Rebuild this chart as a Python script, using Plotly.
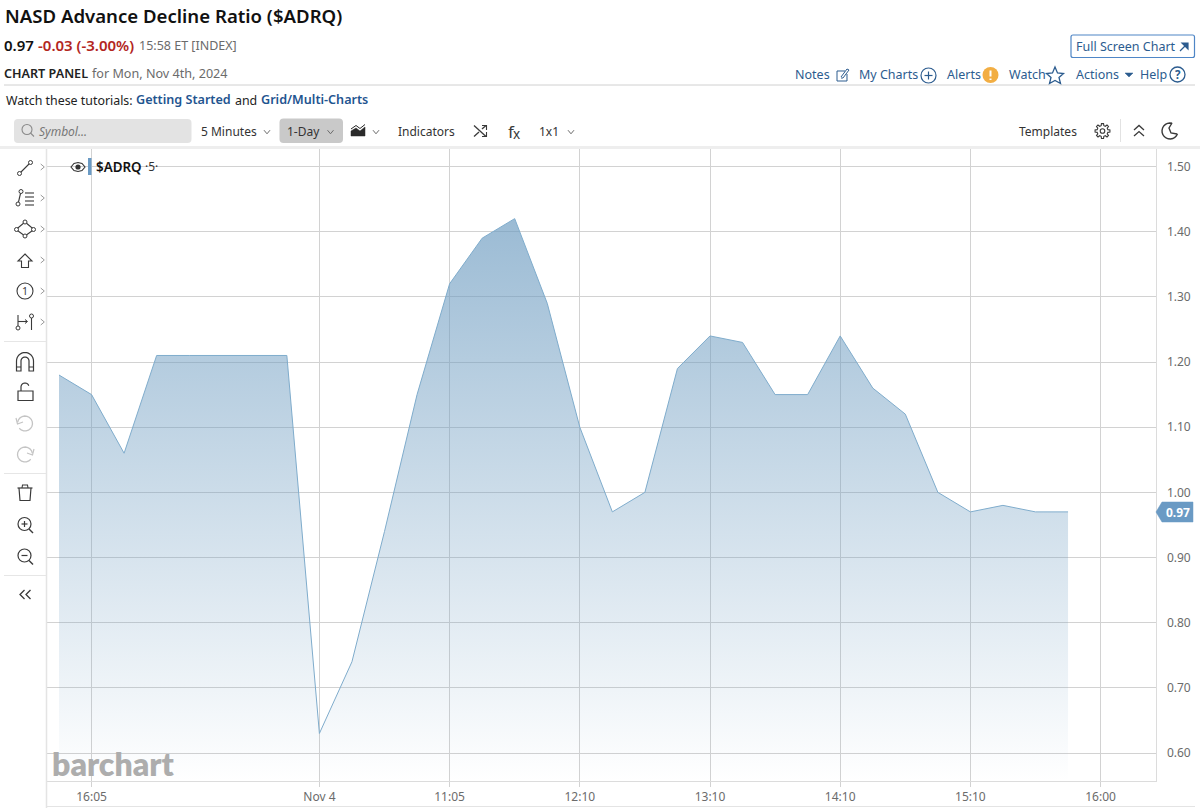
import math
import plotly.graph_objects as go

W, H = 1200, 808

# ---- data ----
bars = list(range(32))
ratio = [1.18, 1.15, 1.06, 1.21, 1.21, 1.21, 1.21, 1.21, 0.63, 0.74, 0.94, 1.15,
         1.32, 1.39, 1.42, 1.29, 1.10, 0.97, 1.00, 1.19, 1.24, 1.23, 1.15, 1.15,
         1.24, 1.16, 1.12, 1.00, 0.97, 0.98, 0.97, 0.97]
x_tick_pos = [1, 8, 12, 16, 20, 24, 28, 32]
x_tick_labels = ["16:05", "Nov 4", "11:05", "12:10", "13:10", "14:10", "15:10", "16:00"]
y_tick_vals = [0.6, 0.7, 0.8, 0.9, 1.0, 1.1, 1.2, 1.3, 1.4, 1.5]
y_tick_labels = ["0.60", "0.70", "0.80", "0.90", "1.00", "1.10", "1.20", "1.30", "1.40", "1.50"]
last_value = 0.97

FONT = "Noto Sans"
BLUE = "#2c5c8f"
LINK = "#1f5590"
DARK = "#333333"
GREY = "#6b6b6b"
ICON = "#3a3a3a"
FAINT = "#c4c4c4"
GRID = "#d2d2d2"

shapes, notes = [], []


def X(v):
    return v / W


def Y(v):
    return 1 - v / H


def text(x, y, s, size=12, color=DARK, bold=False, italic=False, anchor="left", family=FONT, weight=None):
    f = dict(family=family, size=size, color=color)
    if weight:
        f["weight"] = weight
    elif bold:
        f["weight"] = 700
    if italic:
        f["style"] = "italic"
    notes.append(dict(xref="paper", yref="paper", x=X(x), y=Y(y), text=s, showarrow=False,
                      xanchor=anchor, yanchor="middle", font=f, borderpad=0, borderwidth=0))


def path(pts, color=ICON, width=1.2, fill=None, close=False):
    d = "M" + " L".join(f"{X(a):.5f},{Y(b):.5f}" for a, b in pts) + (" Z" if close else "")
    shapes.append(dict(type="path", xref="paper", yref="paper", path=d,
                       line=dict(color=color, width=width), fillcolor=fill or "rgba(0,0,0,0)"))


def circle(cx, cy, r, color=ICON, width=1.2, fill=None):
    shapes.append(dict(type="circle", xref="paper", yref="paper", x0=X(cx - r), x1=X(cx + r),
                       y0=Y(cy + r), y1=Y(cy - r), line=dict(color=color, width=width),
                       fillcolor=fill or "rgba(0,0,0,0)"))


def rrect(x0, y0, x1, y1, r, fill=None, color=None, width=1):
    d = (f"M{X(x0 + r)},{Y(y0)} L{X(x1 - r)},{Y(y0)} Q{X(x1)},{Y(y0)} {X(x1)},{Y(y0 + r)} "
         f"L{X(x1)},{Y(y1 - r)} Q{X(x1)},{Y(y1)} {X(x1 - r)},{Y(y1)} L{X(x0 + r)},{Y(y1)} "
         f"Q{X(x0)},{Y(y1)} {X(x0)},{Y(y1 - r)} L{X(x0)},{Y(y0 + r)} Q{X(x0)},{Y(y0)} {X(x0 + r)},{Y(y0)} Z")
    shapes.append(dict(type="path", xref="paper", yref="paper", path=d,
                       line=dict(color=color or "rgba(0,0,0,0)", width=width if color else 0),
                       fillcolor=fill or "rgba(0,0,0,0)"))


def chev(cx, cy, s=3, color=GREY):
    path([(cx - s, cy - s * 0.6), (cx, cy + s * 0.6), (cx + s, cy - s * 0.6)], color=color, width=1)


def chev_r(cx, cy, s=3, color="#9a9a9a"):
    path([(cx - s * 0.6, cy - s), (cx + s * 0.6, cy), (cx - s * 0.6, cy + s)], color=color, width=1)


def arc(cx, cy, r, a0, a1, **kw):
    n = 16
    path([(cx + r * math.cos(math.radians(a0 + (a1 - a0) * i / n)),
           cy + r * math.sin(math.radians(a0 + (a1 - a0) * i / n))) for i in range(n + 1)], **kw)


def gear(cx, cy, r_out, r_in, teeth=8):
    pts = []
    for i in range(teeth):
        a = 360 * i / teeth
        for da, r in ((-14, r_in), (-8, r_out), (8, r_out), (14, r_in)):
            pts.append((cx + r * math.cos(math.radians(a + da)), cy + r * math.sin(math.radians(a + da))))
    path(pts, width=1.1, close=True)


# ---- header ----
text(5, 15, "NASD Advance Decline Ratio ($ADRQ)", size=18.6, color="#111111", weight=600)
text(4, 45, "0.97", size=15, color="#111111", weight=600)
text(38, 45, "-0.03 (-3.00%)", size=15, color="#b3261e", weight=600)
text(139, 45, "15:58 ET [INDEX]", size=12.5, color=GREY)
text(4, 74, "CHART PANEL", size=12.6, color="#222222", weight=600)
text(92, 74, "for Mon, Nov 4th, 2024", size=12.6, color=GREY)
path([(4, 85), (1195, 85)], color="#d0d0d0", width=1)
text(6, 100, "Watch these tutorials:", size=12.4, color="#222222")
text(136, 99.5, "Getting Started", size=12.6, color=LINK, weight=600)
text(235, 100, "and", size=12.4, color="#222222")
text(261, 99.5, "Grid/Multi-Charts", size=12.6, color=LINK, weight=600)

# top-right
rrect(1071, 35, 1194.5, 57.5, 2, color="#4f86c6", width=1.2)
text(1076, 46, "Full Screen Chart", size=12.5, color=BLUE)
path([(1180, 51), (1187, 44)], color=BLUE, width=1.2)
path([(1182, 43), (1188, 43), (1188, 49)], color=BLUE, width=1.2, fill=BLUE, close=True)
text(795, 75, "Notes", size=12.5, color=BLUE)
path([(845, 71), (837, 71), (837, 81), (847, 81), (847, 74)], color=BLUE, width=1)
path([(841, 77), (847, 69), (849, 70), (843, 78), (841, 78)], color=BLUE, width=1)
text(859, 75, "My Charts", size=12.5, color=BLUE)
circle(928.5, 75.5, 7.5, color=BLUE, width=1.2)
path([(924.5, 75.5), (932.5, 75.5)], color=BLUE, width=1.2)
path([(928.5, 71.5), (928.5, 79.5)], color=BLUE, width=1.2)
text(947, 75, "Alerts", size=12.5, color=BLUE)
circle(990.5, 75, 8, color="#f2ae43", width=0, fill="#f2ae43")
path([(990.5, 70.5), (990.5, 76.5)], color="#ffffff", width=2)
path([(990.5, 78.5), (990.5, 80)], color="#ffffff", width=2)
text(1009, 75, "Watch", size=12.5, color=BLUE)
path([(1055, 67), (1057.5, 73), (1063.5, 73.5), (1059, 77.5), (1060.5, 83.5), (1055, 80.5),
      (1049.5, 83.5), (1051, 77.5), (1046.5, 73.5), (1052.5, 73)], color=BLUE, width=1.3, close=True)
text(1076, 75, "Actions", size=12.5, color=BLUE)
path([(1125, 73), (1133, 73), (1129, 77)], color=BLUE, width=0.5, fill=BLUE, close=True)
text(1140, 75, "Help", size=12.5, color=BLUE)
circle(1177.5, 74.5, 7.5, color=BLUE, width=1.3)
text(1177.5, 75, "?", size=11.5, color=BLUE, anchor="center", weight=700)

# ---- toolbar ----
rrect(14, 119, 191.5, 143, 4, fill="#e3e3e3")
circle(27, 129.5, 5, color="#8a8a8a", width=1.1)
path([(30.5, 133), (34, 136.5)], color="#8a8a8a", width=1.1)
text(39, 131, "Symbol...", size=12, color="#777777", italic=True)
text(201, 131, "5 Minutes", size=12, color=DARK)
chev(267, 132)
rrect(279.5, 118.5, 343, 143, 4, fill="#c9c9c9")
text(287, 131, "1-Day", size=12, color=DARK)
chev(330.5, 132)
path([(351, 136), (351, 131), (356, 128), (360, 131), (365, 127), (365, 136)], color="#2a2a2a", width=0.5,
     fill="#2a2a2a", close=True)
path([(351, 129), (356, 125.5), (360, 128.5), (365, 124.5)], color="#2a2a2a", width=1)
chev(376, 132)
text(398, 131, "Indicators", size=12, color=DARK)
path([(474, 125.5), (486, 136.5)], color=ICON, width=1.3)
path([(474, 136.5), (479, 132)], color=ICON, width=1.3)
path([(482, 129), (486, 125.5)], color=ICON, width=1.3)
path([(482, 125.5), (486.5, 125.5), (486.5, 130)], color=ICON, width=1.1)
path([(482, 136.5), (486.5, 136.5), (486.5, 132)], color=ICON, width=1.1)
text(508, 131, "f", size=17, color=ICON)
text(513, 134.5, "x", size=13.5, color=ICON)
text(539, 131, "1x1", size=12, color=DARK)
chev(571, 132)
text(1019, 131, "Templates", size=12, color=DARK)
circle(1102.5, 131, 2.3, color=ICON, width=1.1)
gear(1102.5, 131, 7.5, 5.5)
path([(1120.5, 119), (1120.5, 142)], color="#e2e2e2", width=1)
path([(1134, 130), (1139, 125.5), (1144, 130)], color=ICON, width=1.3)
path([(1134, 136), (1139, 131.5), (1144, 136)], color=ICON, width=1.3)
arc(1170, 131, 8, 20, 285, color=ICON, width=1.4)
path([(1172, 123), (1169, 128), (1171, 133), (1177, 134)], color=ICON, width=1.4)
path([(0, 147.5), (1200, 147.5)], color="#eeeeee", width=3)

# ---- left tool rail ----
path([(46.5, 149), (46.5, 808)], color="#e4e4e4", width=1.5)
for yy in (167, 198, 229, 260, 291, 322):
    chev_r(42.5, yy)
# line tool
circle(19.5, 173.5, 2, width=1)
circle(30.5, 162.5, 2, width=1)
path([(21, 172), (29, 164)], width=1.1)
# fib
circle(21, 191.5, 2, width=1)
circle(18, 204, 2, width=1)
path([(20.5, 193.5), (18.5, 202)], width=1.1)
for yy in (193, 197, 201, 205):
    path([(25, yy), (34, yy)], width=1.1)
# shape
path([(25, 222), (34, 229.5), (25, 236), (16, 229.5)], width=1.1, close=True)
for a, b in ((25, 222), (33.5, 229.5), (25, 236), (16.5, 229.5)):
    circle(a, b, 2, width=1, fill="#ffffff")
# arrow
path([(25, 254), (32, 261), (28.5, 261), (28.5, 267.5), (21.5, 267.5), (21.5, 261), (18, 261)], width=1.1, close=True)
# number
circle(25, 291, 8, width=1.1)
text(25, 291.5, "1", size=10.5, color=ICON, anchor="center")
# measure
path([(18, 315), (18, 326)], width=1.1)
circle(18, 328, 2, width=1)
path([(18, 321.5), (27, 321.5)], width=1.1)
path([(25, 319.5), (27.5, 321.5), (25, 323.5)], width=1)
circle(31.5, 316, 2, width=1)
path([(31.5, 318), (31.5, 330)], width=1.1)
path([(4, 341.5), (46, 341.5)], color="#e6e6e6", width=1.2)
# magnet
arc(25, 361, 8.5, 180, 360, width=1.2)
arc(25, 361, 4, 180, 360, width=1.2)
path([(16.5, 361), (16.5, 371), (21, 371), (21, 361)], width=1.2)
path([(33.5, 361), (33.5, 371), (29, 371), (29, 361)], width=1.2)
path([(16.5, 367), (21, 367)], width=1)
path([(29, 367), (33.5, 367)], width=1)
# lock
path([(18, 391), (33, 391), (33, 400.5), (18, 400.5)], width=1.2, close=True)
arc(25, 387, 4, 180, 340, width=1.2)
path([(21, 387), (21, 391)], width=1.2)
# undo / redo
arc(25, 423.5, 7.5, 190, 500, color=FAINT, width=1.3)
path([(16, 418), (17.5, 424), (23, 422)], color=FAINT, width=1.2)
arc(25, 454.5, 7.5, -10, -320, color=FAINT, width=1.3)
path([(34, 449), (32.5, 455), (27, 453)], color=FAINT, width=1.2)
path([(4, 473.5), (46, 473.5)], color="#e6e6e6", width=1.2)
# trash
path([(19, 488), (20, 500.5), (30, 500.5), (31, 488)], width=1.2)
path([(17.5, 488), (32.5, 488)], width=1.2)
path([(22, 488), (22.5, 485), (27.5, 485), (28, 488)], width=1.1)
# zooms
circle(24.5, 524, 6.5, width=1.2)
path([(29, 529), (33, 533)], width=1.4)
path([(21.5, 524), (27.5, 524)], width=1.2)
path([(24.5, 521), (24.5, 527)], width=1.2)
circle(24.5, 555.5, 6.5, width=1.2)
path([(29, 560.5), (33, 564.5)], width=1.4)
path([(21.5, 555.5), (27.5, 555.5)], width=1.2)
path([(4, 575.5), (46, 575.5)], color="#e6e6e6", width=1.2)
path([(24.5, 590), (20, 594.5), (24.5, 599)], width=1.3)
path([(30.5, 590), (26, 594.5), (30.5, 599)], width=1.3)

# ---- legend inside chart ----
shapes.append(dict(type="rect", xref="paper", yref="paper", x0=X(88), x1=X(91.5), y0=Y(175), y1=Y(158),
                   line=dict(width=0), fillcolor="#6a9ac4"))
path([(71, 167), (74, 163.5), (78, 162.5), (82, 163.5), (85, 167), (82, 170.5), (78, 171.5), (74, 170.5)],
     color="#333333", width=1.1, close=True)
circle(78, 167, 2.6, color="#333333", width=0, fill="#333333")
text(96, 167, "$ADRQ", size=13.4, color="#111111", weight=600)
text(145, 167, "·5·", size=12, color=DARK)

# ---- last value tag ----
path([(1156, 512), (1162, 502), (1193, 502), (1193, 522), (1162, 522)], color="#6a9ac4", width=0.5,
     fill="#6a9ac4", close=True)
text(1177.5, 512, f"{last_value:.2f}", size=12, color="#ffffff", anchor="center", weight=700)

# ---- watermark ----
text(52, 763, "barchart", size=32, color="#adadad", family="Lato", weight=800)

# ---- bottom rule ----
path([(46, 806.5), (1195, 806.5)], color="#e4e4e4", width=1)

# ---- chart ----
PX_L, PX_R, PX_T, PX_B = 47.0, 1155.5, 149.0, 781.0
X0, STEP = 59.0, 32.55
V_TOP, V_PER = 1.5, 651.67
V_Y0 = 166.5
x_range = [(PX_L - X0) / STEP, (PX_R - X0) / STEP]
y_range = [V_TOP - (PX_B - V_Y0) / V_PER, V_TOP + (V_Y0 - PX_T) / V_PER]

fig = go.Figure(go.Scatter(
    x=bars, y=ratio, mode="lines", line=dict(color="#7faccc", width=1),
    fill="tozeroy",
    fillgradient=dict(type="vertical",
                      colorscale=[[0, "rgba(108,155,192,0)"], [1, "rgba(108,155,192,0.68)"]],
                      start=y_range[0], stop=max(ratio)),
    hoverinfo="skip", showlegend=False))

fig.update_layout(
    width=W, height=H, margin=dict(l=0, r=0, t=0, b=0, pad=0, autoexpand=False),
    paper_bgcolor="#ffffff", plot_bgcolor="#ffffff",
    font=dict(family=FONT, size=12, color=GREY),
    xaxis=dict(domain=[PX_L / W, PX_R / W], range=x_range, tickmode="array",
               tickvals=x_tick_pos, ticktext=x_tick_labels, showgrid=True, gridcolor=GRID, gridwidth=1,
               zeroline=False, showline=True, linecolor="#dcdcdc", linewidth=1, ticks="outside",
               ticklen=5, tickcolor=GRID, tickfont=dict(family=FONT, size=12, color=GREY),
               anchor="y", automargin=False),
    yaxis=dict(domain=[1 - PX_B / H, 1 - PX_T / H], range=y_range, side="right", tickmode="array",
               tickvals=y_tick_vals, ticktext=y_tick_labels, showgrid=True, gridcolor=GRID, gridwidth=1,
               zeroline=False, showline=True, linecolor="#dcdcdc", linewidth=1, ticks="",
               ticklabelstandoff=8, tickfont=dict(family=FONT, size=12, color=GREY),
               anchor="x", automargin=False),
    shapes=shapes, annotations=notes,
)

fig.write_html("out.html", config=dict(displayModeBar=False),
               post_script="document.body.style.margin='0';document.body.style.overflow='hidden';")
